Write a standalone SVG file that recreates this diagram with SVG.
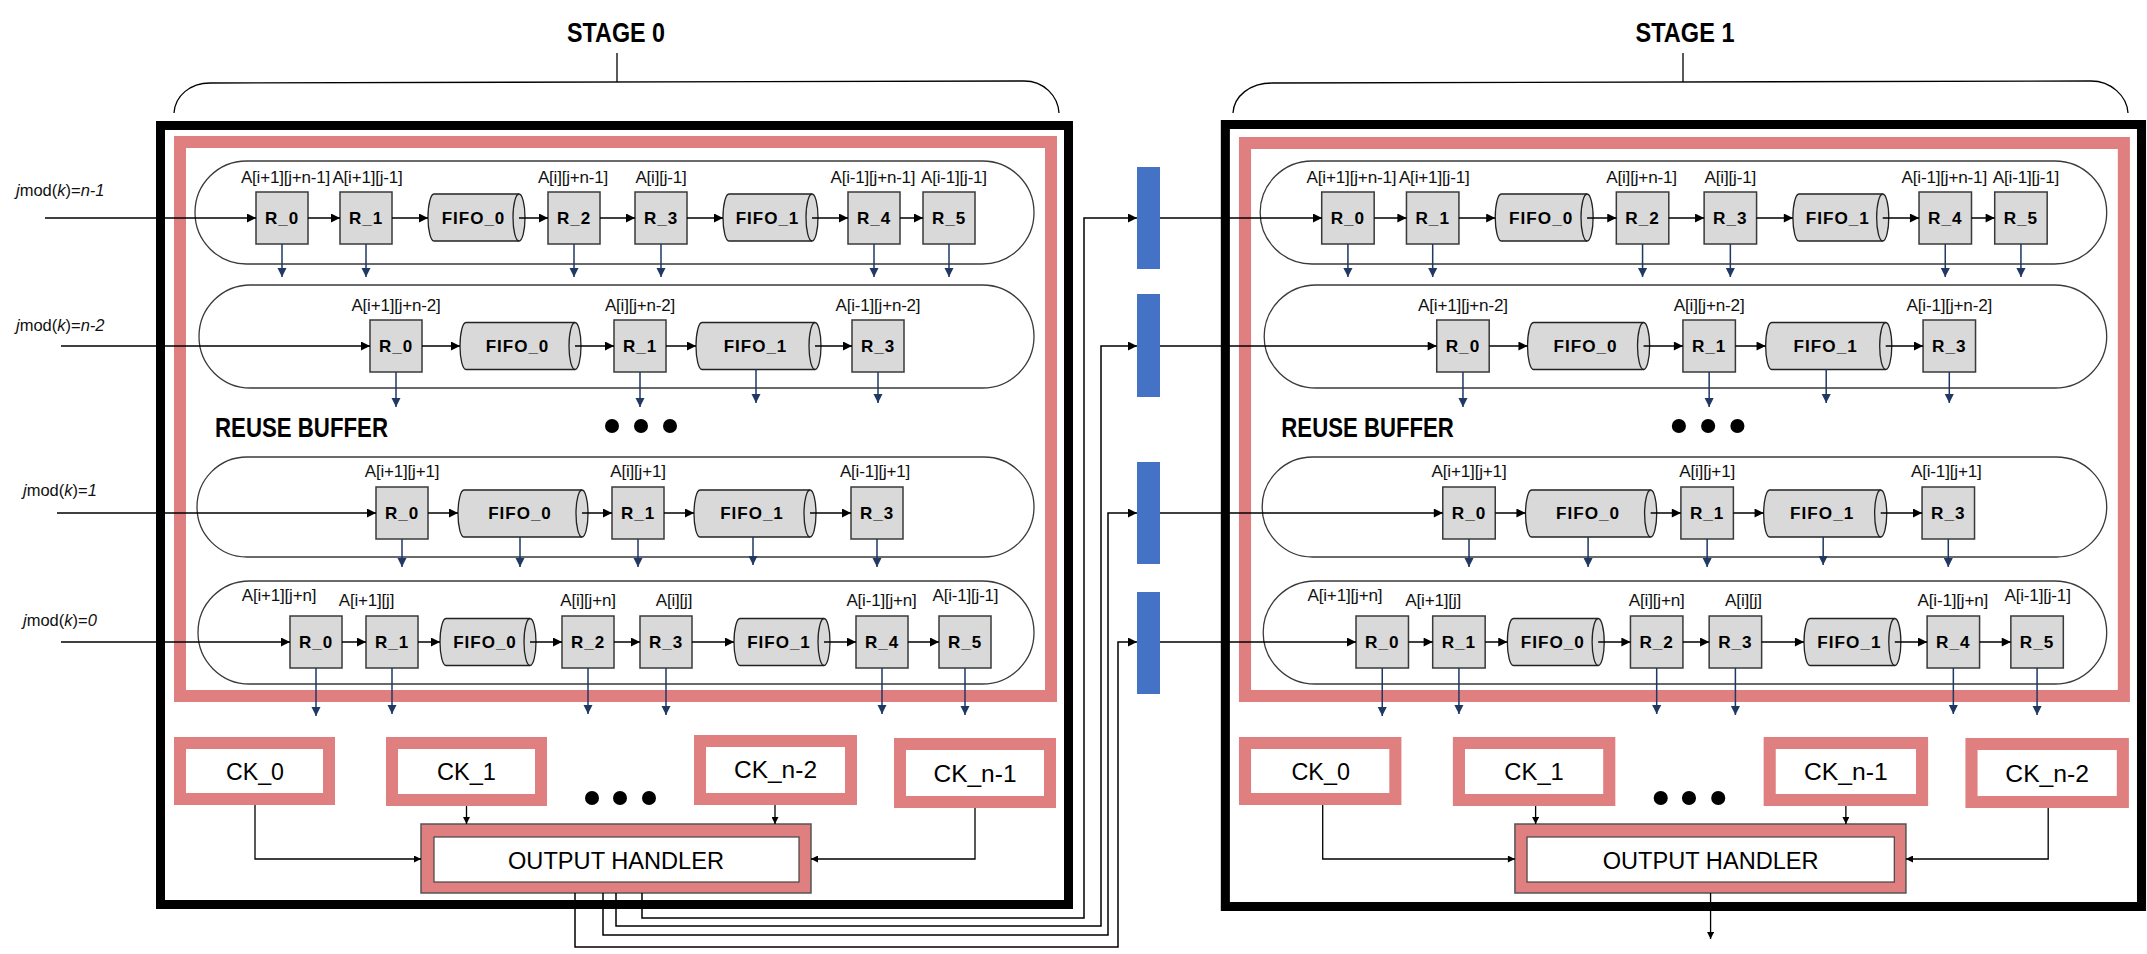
<svg xmlns="http://www.w3.org/2000/svg" width="2147" height="954" viewBox="0 0 2147 954">
<style>
.frame{fill:none;stroke:#000;stroke-width:9}
.pink{fill:none;stroke:#E07F7F;stroke-width:12}
.pill{fill:#fff;stroke:#3A3A3A;stroke-width:1.3}
.rb{fill:#D9D9D9;stroke:#3A3A3A;stroke-width:1.5}
.cy{fill:#D9D9D9;stroke:#222;stroke-width:1.3}
.cyi{fill:none;stroke:#222;stroke-width:1.3}
.rt{font-family:"Liberation Sans",Arial,sans-serif;font-weight:bold;font-size:17px;letter-spacing:1px;text-anchor:middle;fill:#000}
.lbl{font-family:"Liberation Sans",Arial,sans-serif;font-size:17px;letter-spacing:-0.2px;text-anchor:middle;fill:#111}
.in{font-family:"Liberation Sans",Arial,sans-serif;font-size:16.5px;fill:#111}
.it{font-style:italic}
.ck{fill:#fff;stroke:#E07F7F;stroke-width:12}
.ckt{font-family:"Liberation Sans",Arial,sans-serif;font-size:24px;text-anchor:middle;fill:#000}
.oh{fill:#E07F7F;stroke:#555;stroke-width:1.5}
.ohi{fill:#fff;stroke:#444;stroke-width:1.2}
.big{font-family:"Liberation Sans",Arial,sans-serif;font-weight:bold;font-size:28px;fill:#000}
.a{stroke:#000;stroke-width:1.5;fill:none;marker-end:url(#ah)}
.d{stroke:#1F3864;stroke-width:1.5;fill:none;marker-end:url(#nh)}
.s{stroke:#000;stroke-width:1.3;fill:none;marker-end:url(#sh)}
.ln{stroke:#000;stroke-width:1.3;fill:none}
.bar{fill:#4472C4}
.dot{fill:#000}
</style>
<defs>
<marker id="ah" viewBox="0 0 10 10" refX="10" refY="5" markerWidth="10" markerHeight="9" markerUnits="userSpaceOnUse" orient="auto"><path d="M0,0L10,5L0,10z" fill="#000"/></marker>
<marker id="nh" viewBox="0 0 10 10" refX="10" refY="5" markerWidth="9" markerHeight="10" markerUnits="userSpaceOnUse" orient="auto"><path d="M0,0L10,5L0,10z" fill="#1F3864"/></marker>
<marker id="sh" viewBox="0 0 10 10" refX="10" refY="5" markerWidth="8" markerHeight="7" markerUnits="userSpaceOnUse" orient="auto"><path d="M0,0L10,5L0,10z" fill="#000"/></marker>
</defs>

<g id="title-stage0">
<text class="big" x="616" y="42" text-anchor="middle" font-size="30" textLength="98" lengthAdjust="spacingAndGlyphs">STAGE 0</text>
<path class="ln" d="M174,113 C175,96 190,83 210,83 L1024,81 C1044,81 1058,96 1059,113"/>
<line class="ln" x1="617" y1="53" x2="617" y2="82"/>
</g>
<g id="title-stage1">
<text class="big" x="1685" y="42" text-anchor="middle" font-size="30" textLength="99" lengthAdjust="spacingAndGlyphs">STAGE 1</text>
<path class="ln" d="M1233,113 C1234,96 1250,83 1272,83 L2091,81 C2111,81 2127,96 2128,113"/>
<line class="ln" x1="1683" y1="53" x2="1683" y2="82"/>
</g>

<g id="stage0">
<rect id="s0-frame" class="frame" x="160.5" y="125.5" width="908" height="779"/>
<g id="s0-reuse-buffer">
<rect class="pink" x="180" y="142" width="871" height="554"/>
<text class="big" x="215" y="437" textLength="173" lengthAdjust="spacingAndGlyphs">REUSE BUFFER</text>
<circle class="dot" cx="612" cy="426" r="7"/><circle class="dot" cx="641" cy="426" r="7"/><circle class="dot" cx="670" cy="426" r="7"/>
</g>
<g id="s0-inputs">
<text class="in" x="16" y="196"><tspan class="it">j</tspan>mod(<tspan class="it">k</tspan>)=<tspan class="it">n-1</tspan></text>
<text class="in" x="16" y="331"><tspan class="it">j</tspan>mod(<tspan class="it">k</tspan>)=<tspan class="it">n-2</tspan></text>
<text class="in" x="23" y="496"><tspan class="it">j</tspan>mod(<tspan class="it">k</tspan>)=<tspan class="it">1</tspan></text>
<text class="in" x="23" y="626"><tspan class="it">j</tspan>mod(<tspan class="it">k</tspan>)=<tspan class="it">0</tspan></text>
</g>
<g id="s0-row1"><rect class="pill" x="195" y="161" width="839" height="103" rx="51.5"/></g>
<g id="s0-r1-R0"><rect class="rb" x="256" y="192" width="52" height="52"/><text class="rt" x="282" y="224">R_0</text><text class="lbl" x="285.5" y="183">A[i+1][j+n-1]</text></g>
<g id="s0-r1-R1"><rect class="rb" x="340" y="192" width="52" height="52"/><text class="rt" x="366" y="224">R_1</text><text class="lbl" x="367.5" y="183">A[i+1][j-1]</text></g>
<g id="s0-r1-F0"><path class="cy" d="M434,194H519A6,23.5 0 0 1 519,241H434A6,23.5 0 0 1 434,194Z"/><path class="cyi" d="M519,194A6,23.5 0 0 0 519,241"/><text class="rt" x="473.5" y="224">FIFO_0</text></g>
<g id="s0-r1-R2"><rect class="rb" x="548" y="192" width="52" height="52"/><text class="rt" x="574" y="224">R_2</text><text class="lbl" x="573" y="183">A[i][j+n-1]</text></g>
<g id="s0-r1-R3"><rect class="rb" x="635" y="192" width="52" height="52"/><text class="rt" x="661" y="224">R_3</text><text class="lbl" x="661" y="183">A[i][j-1]</text></g>
<g id="s0-r1-F1"><path class="cy" d="M729,194H812A6,23.5 0 0 1 812,241H729A6,23.5 0 0 1 729,194Z"/><path class="cyi" d="M812,194A6,23.5 0 0 0 812,241"/><text class="rt" x="767.5" y="224">FIFO_1</text></g>
<g id="s0-r1-R4"><rect class="rb" x="848" y="192" width="52" height="52"/><text class="rt" x="874" y="224">R_4</text><text class="lbl" x="873" y="183">A[i-1][j+n-1]</text></g>
<g id="s0-r1-R5"><rect class="rb" x="923" y="192" width="52" height="52"/><text class="rt" x="949" y="224">R_5</text><text class="lbl" x="954" y="183">A[i-1][j-1]</text></g>
<g id="s0-row2"><rect class="pill" x="199" y="285" width="835" height="103" rx="51.5"/></g>
<g id="s0-r2-R0"><rect class="rb" x="370" y="320" width="52" height="52"/><text class="rt" x="396" y="352">R_0</text><text class="lbl" x="396" y="311">A[i+1][j+n-2]</text></g>
<g id="s0-r2-F0"><path class="cy" d="M466,322.5H575A6,23.5 0 0 1 575,369.5H466A6,23.5 0 0 1 466,322.5Z"/><path class="cyi" d="M575,322.5A6,23.5 0 0 0 575,369.5"/><text class="rt" x="517.5" y="352">FIFO_0</text></g>
<g id="s0-r2-R1"><rect class="rb" x="614" y="320" width="52" height="52"/><text class="rt" x="640" y="352">R_1</text><text class="lbl" x="640" y="311">A[i][j+n-2]</text></g>
<g id="s0-r2-F1"><path class="cy" d="M702,322.5H815A6,23.5 0 0 1 815,369.5H702A6,23.5 0 0 1 702,322.5Z"/><path class="cyi" d="M815,322.5A6,23.5 0 0 0 815,369.5"/><text class="rt" x="755.5" y="352">FIFO_1</text></g>
<g id="s0-r2-R3"><rect class="rb" x="852" y="320" width="52" height="52"/><text class="rt" x="878" y="352">R_3</text><text class="lbl" x="878" y="311">A[i-1][j+n-2]</text></g>
<g id="s0-row3"><rect class="pill" x="197" y="457" width="837" height="100" rx="50"/></g>
<g id="s0-r3-R0"><rect class="rb" x="376" y="487" width="52" height="52"/><text class="rt" x="402" y="519">R_0</text><text class="lbl" x="402" y="477">A[i+1][j+1]</text></g>
<g id="s0-r3-F0"><path class="cy" d="M464,490H582A6,23.5 0 0 1 582,537H464A6,23.5 0 0 1 464,490Z"/><path class="cyi" d="M582,490A6,23.5 0 0 0 582,537"/><text class="rt" x="520" y="519">FIFO_0</text></g>
<g id="s0-r3-R1"><rect class="rb" x="612" y="487" width="52" height="52"/><text class="rt" x="638" y="519">R_1</text><text class="lbl" x="638" y="477">A[i][j+1]</text></g>
<g id="s0-r3-F1"><path class="cy" d="M700,490H810A6,23.5 0 0 1 810,537H700A6,23.5 0 0 1 700,490Z"/><path class="cyi" d="M810,490A6,23.5 0 0 0 810,537"/><text class="rt" x="752" y="519">FIFO_1</text></g>
<g id="s0-r3-R3"><rect class="rb" x="851" y="487" width="52" height="52"/><text class="rt" x="877" y="519">R_3</text><text class="lbl" x="875" y="477">A[i-1][j+1]</text></g>
<g id="s0-row4"><rect class="pill" x="198" y="581" width="836" height="103" rx="51.5"/></g>
<g id="s0-r4-R0"><rect class="rb" x="290" y="616" width="52" height="52"/><text class="rt" x="316" y="648">R_0</text><text class="lbl" x="279" y="601">A[i+1][j+n]</text></g>
<g id="s0-r4-R1"><rect class="rb" x="366" y="616" width="52" height="52"/><text class="rt" x="392" y="648">R_1</text><text class="lbl" x="366.5" y="606">A[i+1][j]</text></g>
<g id="s0-r4-F0"><path class="cy" d="M446,618.5H530A6,23.5 0 0 1 530,665.5H446A6,23.5 0 0 1 446,618.5Z"/><path class="cyi" d="M530,618.5A6,23.5 0 0 0 530,665.5"/><text class="rt" x="485" y="648">FIFO_0</text></g>
<g id="s0-r4-R2"><rect class="rb" x="562" y="616" width="52" height="52"/><text class="rt" x="588" y="648">R_2</text><text class="lbl" x="588" y="606">A[i][j+n]</text></g>
<g id="s0-r4-R3"><rect class="rb" x="640" y="616" width="52" height="52"/><text class="rt" x="666" y="648">R_3</text><text class="lbl" x="674" y="606">A[i][j]</text></g>
<g id="s0-r4-F1"><path class="cy" d="M740,618.5H824A6,23.5 0 0 1 824,665.5H740A6,23.5 0 0 1 740,618.5Z"/><path class="cyi" d="M824,618.5A6,23.5 0 0 0 824,665.5"/><text class="rt" x="779" y="648">FIFO_1</text></g>
<g id="s0-r4-R4"><rect class="rb" x="856" y="616" width="52" height="52"/><text class="rt" x="882" y="648">R_4</text><text class="lbl" x="881.5" y="606">A[i-1][j+n]</text></g>
<g id="s0-r4-R5"><rect class="rb" x="939" y="616" width="52" height="52"/><text class="rt" x="965" y="648">R_5</text><text class="lbl" x="965.5" y="601">A[i-1][j-1]</text></g>
<g id="s0-ck0"><rect class="ck" x="180" y="743" width="149" height="56"/><text class="ckt" x="255" y="780" textLength="58" lengthAdjust="spacingAndGlyphs">CK_0</text></g>
<g id="s0-ck1"><rect class="ck" x="392" y="743" width="149" height="57"/><text class="ckt" x="466.5" y="780" textLength="59" lengthAdjust="spacingAndGlyphs">CK_1</text></g>
<g id="s0-ckdots"><circle class="dot" cx="592" cy="798" r="7"/><circle class="dot" cx="620" cy="798" r="7"/><circle class="dot" cx="649" cy="798" r="7"/></g>
<g id="s0-ckn2"><rect class="ck" x="700" y="741" width="151" height="58"/><text class="ckt" x="775.5" y="778" textLength="83" lengthAdjust="spacingAndGlyphs">CK_n-2</text></g>
<g id="s0-ckn1"><rect class="ck" x="900" y="744" width="150" height="58"/><text class="ckt" x="975" y="782" textLength="83" lengthAdjust="spacingAndGlyphs">CK_n-1</text></g>
<g id="s0-oh"><rect class="oh" x="421" y="824" width="390" height="69"/><rect class="ohi" x="434" y="837" width="365" height="45"/><text class="ckt" x="616" y="869" font-size="25" textLength="216" lengthAdjust="spacingAndGlyphs">OUTPUT HANDLER</text></g>
</g>

<g id="stage1" transform="matrix(1.009,0,0,1,1063.4,0)">
<rect id="s1-frame" class="frame" x="160.5" y="124.5" width="908" height="782"/>
<g id="s1-reuse-buffer">
<rect class="pink" x="180" y="143" width="871" height="553"/>
<text class="big" x="216" y="437" textLength="171" lengthAdjust="spacingAndGlyphs">REUSE BUFFER</text>
<circle class="dot" cx="610" cy="426" r="7"/><circle class="dot" cx="639" cy="426" r="7"/><circle class="dot" cx="668" cy="426" r="7"/>
</g>
<g id="s1-row1"><rect class="pill" x="195" y="161" width="839" height="103" rx="51.5"/></g>
<g id="s1-r1-R0"><rect class="rb" x="256" y="192" width="52" height="52"/><text class="rt" x="282" y="224">R_0</text><text class="lbl" x="285.5" y="183">A[i+1][j+n-1]</text></g>
<g id="s1-r1-R1"><rect class="rb" x="340" y="192" width="52" height="52"/><text class="rt" x="366" y="224">R_1</text><text class="lbl" x="367.5" y="183">A[i+1][j-1]</text></g>
<g id="s1-r1-F0"><path class="cy" d="M434,194H519A6,23.5 0 0 1 519,241H434A6,23.5 0 0 1 434,194Z"/><path class="cyi" d="M519,194A6,23.5 0 0 0 519,241"/><text class="rt" x="473.5" y="224">FIFO_0</text></g>
<g id="s1-r1-R2"><rect class="rb" x="548" y="192" width="52" height="52"/><text class="rt" x="574" y="224">R_2</text><text class="lbl" x="573" y="183">A[i][j+n-1]</text></g>
<g id="s1-r1-R3"><rect class="rb" x="635" y="192" width="52" height="52"/><text class="rt" x="661" y="224">R_3</text><text class="lbl" x="661" y="183">A[i][j-1]</text></g>
<g id="s1-r1-F1"><path class="cy" d="M729,194H812A6,23.5 0 0 1 812,241H729A6,23.5 0 0 1 729,194Z"/><path class="cyi" d="M812,194A6,23.5 0 0 0 812,241"/><text class="rt" x="767.5" y="224">FIFO_1</text></g>
<g id="s1-r1-R4"><rect class="rb" x="848" y="192" width="52" height="52"/><text class="rt" x="874" y="224">R_4</text><text class="lbl" x="873" y="183">A[i-1][j+n-1]</text></g>
<g id="s1-r1-R5"><rect class="rb" x="923" y="192" width="52" height="52"/><text class="rt" x="949" y="224">R_5</text><text class="lbl" x="954" y="183">A[i-1][j-1]</text></g>
<g id="s1-row2"><rect class="pill" x="199" y="285" width="835" height="103" rx="51.5"/></g>
<g id="s1-r2-R0"><rect class="rb" x="370" y="320" width="52" height="52"/><text class="rt" x="396" y="352">R_0</text><text class="lbl" x="396" y="311">A[i+1][j+n-2]</text></g>
<g id="s1-r2-F0"><path class="cy" d="M466,322.5H575A6,23.5 0 0 1 575,369.5H466A6,23.5 0 0 1 466,322.5Z"/><path class="cyi" d="M575,322.5A6,23.5 0 0 0 575,369.5"/><text class="rt" x="517.5" y="352">FIFO_0</text></g>
<g id="s1-r2-R1"><rect class="rb" x="614" y="320" width="52" height="52"/><text class="rt" x="640" y="352">R_1</text><text class="lbl" x="640" y="311">A[i][j+n-2]</text></g>
<g id="s1-r2-F1"><path class="cy" d="M702,322.5H815A6,23.5 0 0 1 815,369.5H702A6,23.5 0 0 1 702,322.5Z"/><path class="cyi" d="M815,322.5A6,23.5 0 0 0 815,369.5"/><text class="rt" x="755.5" y="352">FIFO_1</text></g>
<g id="s1-r2-R3"><rect class="rb" x="852" y="320" width="52" height="52"/><text class="rt" x="878" y="352">R_3</text><text class="lbl" x="878" y="311">A[i-1][j+n-2]</text></g>
<g id="s1-row3"><rect class="pill" x="197" y="457" width="837" height="100" rx="50"/></g>
<g id="s1-r3-R0"><rect class="rb" x="376" y="487" width="52" height="52"/><text class="rt" x="402" y="519">R_0</text><text class="lbl" x="402" y="477">A[i+1][j+1]</text></g>
<g id="s1-r3-F0"><path class="cy" d="M464,490H582A6,23.5 0 0 1 582,537H464A6,23.5 0 0 1 464,490Z"/><path class="cyi" d="M582,490A6,23.5 0 0 0 582,537"/><text class="rt" x="520" y="519">FIFO_0</text></g>
<g id="s1-r3-R1"><rect class="rb" x="612" y="487" width="52" height="52"/><text class="rt" x="638" y="519">R_1</text><text class="lbl" x="638" y="477">A[i][j+1]</text></g>
<g id="s1-r3-F1"><path class="cy" d="M700,490H810A6,23.5 0 0 1 810,537H700A6,23.5 0 0 1 700,490Z"/><path class="cyi" d="M810,490A6,23.5 0 0 0 810,537"/><text class="rt" x="752" y="519">FIFO_1</text></g>
<g id="s1-r3-R3"><rect class="rb" x="851" y="487" width="52" height="52"/><text class="rt" x="877" y="519">R_3</text><text class="lbl" x="875" y="477">A[i-1][j+1]</text></g>
<g id="s1-row4"><rect class="pill" x="198" y="581" width="836" height="103" rx="51.5"/></g>
<g id="s1-r4-R0"><rect class="rb" x="290" y="616" width="52" height="52"/><text class="rt" x="316" y="648">R_0</text><text class="lbl" x="279" y="601">A[i+1][j+n]</text></g>
<g id="s1-r4-R1"><rect class="rb" x="366" y="616" width="52" height="52"/><text class="rt" x="392" y="648">R_1</text><text class="lbl" x="366.5" y="606">A[i+1][j]</text></g>
<g id="s1-r4-F0"><path class="cy" d="M446,618.5H530A6,23.5 0 0 1 530,665.5H446A6,23.5 0 0 1 446,618.5Z"/><path class="cyi" d="M530,618.5A6,23.5 0 0 0 530,665.5"/><text class="rt" x="485" y="648">FIFO_0</text></g>
<g id="s1-r4-R2"><rect class="rb" x="562" y="616" width="52" height="52"/><text class="rt" x="588" y="648">R_2</text><text class="lbl" x="588" y="606">A[i][j+n]</text></g>
<g id="s1-r4-R3"><rect class="rb" x="640" y="616" width="52" height="52"/><text class="rt" x="666" y="648">R_3</text><text class="lbl" x="674" y="606">A[i][j]</text></g>
<g id="s1-r4-F1"><path class="cy" d="M740,618.5H824A6,23.5 0 0 1 824,665.5H740A6,23.5 0 0 1 740,618.5Z"/><path class="cyi" d="M824,618.5A6,23.5 0 0 0 824,665.5"/><text class="rt" x="779" y="648">FIFO_1</text></g>
<g id="s1-r4-R4"><rect class="rb" x="856" y="616" width="52" height="52"/><text class="rt" x="882" y="648">R_4</text><text class="lbl" x="881.5" y="606">A[i-1][j+n]</text></g>
<g id="s1-r4-R5"><rect class="rb" x="939" y="616" width="52" height="52"/><text class="rt" x="965" y="648">R_5</text><text class="lbl" x="965.5" y="601">A[i-1][j-1]</text></g>
<g id="s1-ck0"><rect class="ck" x="180" y="743" width="149" height="56"/><text class="ckt" x="255" y="780" textLength="58" lengthAdjust="spacingAndGlyphs">CK_0</text></g>
<g id="s1-ck1"><rect class="ck" x="392" y="743" width="149" height="57"/><text class="ckt" x="466.5" y="780" textLength="59" lengthAdjust="spacingAndGlyphs">CK_1</text></g>
<g id="s1-ckdots"><circle class="dot" cx="592" cy="798" r="7"/><circle class="dot" cx="620" cy="798" r="7"/><circle class="dot" cx="649" cy="798" r="7"/></g>
<g id="s1-ckn1"><rect class="ck" x="700" y="743" width="151" height="57"/><text class="ckt" x="775.5" y="780" textLength="83" lengthAdjust="spacingAndGlyphs">CK_n-1</text></g>
<g id="s1-ckn2"><rect class="ck" x="900" y="744" width="150" height="58"/><text class="ckt" x="975" y="782" textLength="83" lengthAdjust="spacingAndGlyphs">CK_n-2</text></g>
<g id="s1-oh"><rect class="oh" x="447.5" y="824" width="387.5" height="69"/><rect class="ohi" x="459.5" y="837" width="364" height="45"/><text class="ckt" x="641.5" y="869" font-size="25" textLength="214" lengthAdjust="spacingAndGlyphs">OUTPUT HANDLER</text></g>
</g>

<g id="pipe-reg-0"><rect class="bar" x="1137" y="167" width="23" height="102"/></g>
<g id="pipe-reg-1"><rect class="bar" x="1137" y="294" width="23" height="103"/></g>
<g id="pipe-reg-2"><rect class="bar" x="1137" y="462" width="23" height="102"/></g>
<g id="pipe-reg-3"><rect class="bar" x="1137" y="592" width="23" height="102"/></g>

<g id="connectors">
<g id="conn-stage0">
<path class="a" d="M45,218H256"/><path class="a" d="M308,218H340"/><path class="a" d="M392,218H428"/><path class="a" d="M519,218H548"/><path class="a" d="M600,218H635"/><path class="a" d="M687,218H723"/><path class="a" d="M812,218H848"/><path class="a" d="M900,218H923"/>
<path class="d" d="M282,244V277"/><path class="d" d="M366,244V277"/><path class="d" d="M574,244V277"/><path class="d" d="M661,244V277"/><path class="d" d="M874,244V277"/><path class="d" d="M949,244V277"/>
<path class="a" d="M61,346H370"/><path class="a" d="M422,346H460"/><path class="a" d="M575,346H614"/><path class="a" d="M666,346H696"/><path class="a" d="M815,346H852"/>
<path class="d" d="M396,372V407"/><path class="d" d="M640,372V407"/><path class="d" d="M756,369.5V403"/><path class="d" d="M878,372V403"/>
<path class="a" d="M57,513H376"/><path class="a" d="M428,513H458"/><path class="a" d="M582,513H612"/><path class="a" d="M664,513H694"/><path class="a" d="M810,513H851"/>
<path class="d" d="M402,539V567"/><path class="d" d="M520,537V567"/><path class="d" d="M638,539V567"/><path class="d" d="M753,537V565"/><path class="d" d="M877,539V567"/>
<path class="a" d="M61,642H290"/><path class="a" d="M342,642H366"/><path class="a" d="M418,642H440"/><path class="a" d="M530,642H562"/><path class="a" d="M614,642H640"/><path class="a" d="M692,642H734"/><path class="a" d="M824,642H856"/><path class="a" d="M908,642H939"/>
<path class="d" d="M316,668V716"/><path class="d" d="M392,668V714"/><path class="d" d="M588,668V714"/><path class="d" d="M666,668V715"/><path class="d" d="M882,668V714"/><path class="d" d="M965,668V715"/>
<path class="s" d="M255,805V859H421"/><path class="s" d="M466.5,806V824"/><path class="s" d="M775,805V824"/><path class="s" d="M975,808V859H811"/>
</g>
<g id="conn-stage1" transform="matrix(1.009,0,0,1,1063.4,0)">
<path class="a" d="M308,218H340"/><path class="a" d="M392,218H428"/><path class="a" d="M519,218H548"/><path class="a" d="M600,218H635"/><path class="a" d="M687,218H723"/><path class="a" d="M812,218H848"/><path class="a" d="M900,218H923"/>
<path class="d" d="M282,244V277"/><path class="d" d="M366,244V277"/><path class="d" d="M574,244V277"/><path class="d" d="M661,244V277"/><path class="d" d="M874,244V277"/><path class="d" d="M949,244V277"/>
<path class="a" d="M422,346H460"/><path class="a" d="M575,346H614"/><path class="a" d="M666,346H696"/><path class="a" d="M815,346H852"/>
<path class="d" d="M396,372V407"/><path class="d" d="M640,372V407"/><path class="d" d="M756,369.5V403"/><path class="d" d="M878,372V403"/>
<path class="a" d="M428,513H458"/><path class="a" d="M582,513H612"/><path class="a" d="M664,513H694"/><path class="a" d="M810,513H851"/>
<path class="d" d="M402,539V567"/><path class="d" d="M520,537V567"/><path class="d" d="M638,539V567"/><path class="d" d="M753,537V565"/><path class="d" d="M877,539V567"/>
<path class="a" d="M342,642H366"/><path class="a" d="M418,642H440"/><path class="a" d="M530,642H562"/><path class="a" d="M614,642H640"/><path class="a" d="M692,642H734"/><path class="a" d="M824,642H856"/><path class="a" d="M908,642H939"/>
<path class="d" d="M316,668V716"/><path class="d" d="M392,668V714"/><path class="d" d="M588,668V714"/><path class="d" d="M666,668V715"/><path class="d" d="M882,668V714"/><path class="d" d="M965,668V715"/>
<path class="s" d="M257,805V859H447.5"/><path class="s" d="M468,806V824"/><path class="s" d="M775.5,806V824"/><path class="s" d="M976,808V859H835"/>
<path class="s" d="M641.4,893V939"/>
</g>
<g id="conn-inter">
<path class="a" d="M642,893V918H1084V218H1137"/>
<path class="a" d="M616,893V926H1101V346H1137"/>
<path class="a" d="M603,893V935H1108V513H1137"/>
<path class="a" d="M575,893V947H1118V642H1137"/>
<path class="a" d="M1160,218H1322"/>
<path class="a" d="M1160,346H1436.7"/>
<path class="a" d="M1160,513H1442.8"/>
<path class="a" d="M1160,642H1356"/>
</g>
</g>
</svg>
